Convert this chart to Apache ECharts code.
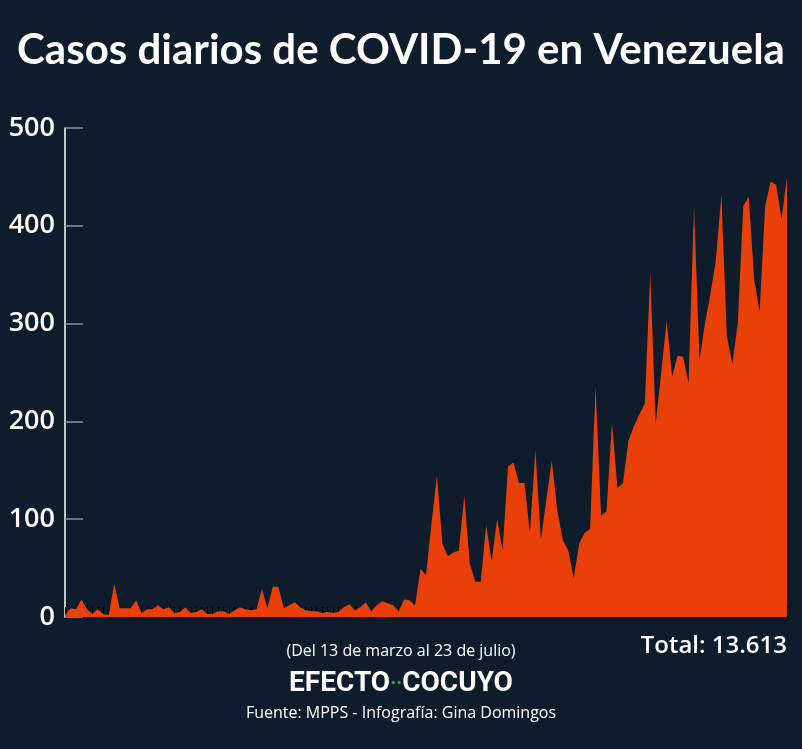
<!DOCTYPE html>
<html>
<head>
<meta charset="utf-8">
<title>Casos diarios de COVID-19 en Venezuela</title>
<script src="https://cdn.jsdelivr.net/npm/echarts@6.0.0/dist/echarts.min.js"></script>
<style>
  html, body { margin: 0; padding: 0; background: #0e1c2b; }
  #main { width: 802px; height: 749px; }
</style>
</head>
<body>
<div id="main"></div>
<script>
// casos nuevos por día, del 13 de marzo al 23 de julio
let casos = [
    2, 9, 8, 18, 8, 3, 8, 3, 2, 34,
    9, 9, 9, 17, 4, 8, 8, 12, 8, 10,
    4, 5, 10, 4, 5, 8, 3, 3, 6, 6,
    3, 7, 10, 8, 7, 8, 29, 9, 31, 31,
    9, 12, 15, 10, 7, 6, 6, 4, 5, 4,
    5, 10, 13, 7, 10, 15, 6, 12, 16, 14,
    12, 6, 18, 17, 12, 49, 43, 95, 145, 75,
    62, 66, 68, 124, 55, 36, 36, 94, 57, 100,
    68, 154, 158, 137, 137, 86, 171, 79, 120, 160,
    109, 79, 68, 40, 75, 86, 90, 236, 104, 108,
    199, 132, 137, 180, 195, 207, 218, 352, 198, 250,
    303, 246, 267, 266, 239, 420, 263, 300, 330, 365,
    432, 287, 259, 300, 420, 430, 345, 312, 420, 445,
    442, 407, 450
]
// etiquetas del eje y
let yTicks = [0, 100, 200, 300, 400, 500]

// fechas (categorías del eje x)
let meses = ['ene', 'feb', 'mar', 'abr', 'may', 'jun', 'jul']
let fechas = []
let inicio = new Date(2020, 2, 13)
for (let k = 0; k < casos.length; k++) {
    let d = new Date(inicio.getTime())
    d.setDate(inicio.getDate() + k)
    fechas.push(d.getDate() + ' ' + meses[d.getMonth()])
}

let fondo = '#0e1c2b'
let naranja = '#e84008'

let chart = echarts.init(document.getElementById('main'))
const option = {
    backgroundColor: fondo,
    animation: false,
    title: {
        text: 'Casos diarios de COVID-19 en Venezuela',
        left: 'center',
        top: 24,
        textStyle: {
            color: '#fff',
            fontFamily: 'Lato',
            fontWeight: 'bold',
            fontSize: 42
        }
    },
    grid: {
        left: 65,
        right: 15,
        top: 128,
        bottom: 132
    },
    xAxis: {
        type: 'category',
        data: fechas,
        boundaryGap: false,
        axisLine: { show: false },
        axisTick: {
            show: true,
            inside: true,
            length: 10,
            interval: 0,
            lineStyle: { color: '#000', width: 1 }
        },
        axisLabel: { show: false },
        splitLine: { show: false }
    },
    yAxis: {
        type: 'value',
        min: yTicks[0],
        max: yTicks[yTicks.length - 1],
        interval: 100,
        axisLine: {
            show: true,
            lineStyle: { color: '#fff', width: 1.5 }
        },
        axisTick: {
            show: true,
            inside: true,
            length: 18,
            lineStyle: { color: '#8c939b', width: 1.5 }
        },
        axisLabel: {
            color: '#fff',
            fontFamily: 'Open Sans',
            fontWeight: 600,
            fontSize: 27,
            margin: 10
        },
        splitLine: { show: false }
    },
    series: [{
        type: 'line',
        data: casos,
        symbol: 'none',
        lineStyle: { width: 0 },
        areaStyle: { color: naranja, opacity: 1 },
        z: 3
    }],
    graphic: [
        {
            type: 'text',
            left: 'center',
            top: 643,
            style: {
                text: '(Del 13 de marzo al 23 de julio)',
                fill: '#fff',
                font: '16px "Open Sans"'
            }
        },
        {
            type: 'text',
            right: 15,
            top: 634,
            style: {
                text: 'Total: 13.613',
                fill: '#fff',
                font: '600 24px "Open Sans"'
            }
        },
        {
            type: 'text',
            left: 'center',
            top: 670,
            style: {
                text: '{a|EFECTO}{b|··}{a|COCUYO}',
                rich: {
                    a: { fill: '#fff', fontFamily: 'Roboto', fontWeight: 'bold', fontSize: 28 },
                    b: { fill: '#3cb64a', fontFamily: 'Roboto', fontWeight: 'bold', fontSize: 20 }
                }
            }
        },
        {
            type: 'text',
            left: 'center',
            top: 705,
            style: {
                text: 'Fuente: MPPS - Infografía: Gina Domingos',
                fill: '#fff',
                font: '16px "Open Sans"'
            }
        }
    ]
}
chart.setOption(option)
</script>
</body>
</html>
